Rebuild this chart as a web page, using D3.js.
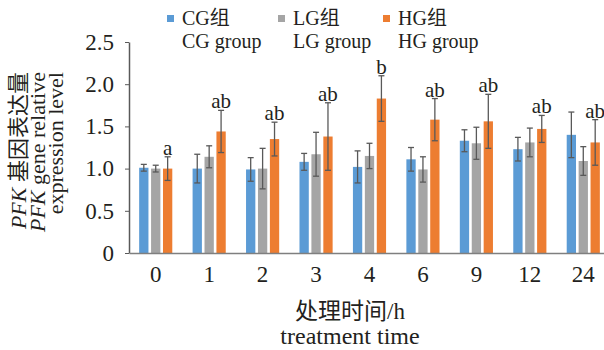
<!DOCTYPE html>
<html>
<head>
<meta charset="utf-8">
<script src="https://cdn.jsdelivr.net/npm/d3@7"></script>
<style>
  body { margin: 0; background: #fff; }
  text { font-family: "Liberation Serif", "Noto Sans CJK SC", serif; fill: #231f20; }
</style>
</head>
<body>
<svg id="chart"></svg>
<script>
// time points (h)
const categories = ["0", "1", "2", "3", "4", "6", "9", "12", "24"];
const groups = ["CG", "LG", "HG"];
const groupNames = ["CG组", "LG组", "HG组"];
const groupNamesEn = ["CG group", "LG group", "HG group"];
const colors = ["#5b9bd5", "#a5a5a5", "#ed7d31"];

const cgValues = [1.01, 1.00, 0.99, 1.08, 1.02, 1.11, 1.33, 1.23, 1.40];
const lgValues = [1.00, 1.14, 1.00, 1.17, 1.15, 0.99, 1.30, 1.31, 1.09];
const hgValues = [1.00, 1.44, 1.35, 1.38, 1.83, 1.58, 1.56, 1.47, 1.31];
const cgErr = [0.04, 0.17, 0.14, 0.10, 0.19, 0.14, 0.13, 0.14, 0.27];
const lgErr = [0.04, 0.13, 0.24, 0.26, 0.15, 0.15, 0.19, 0.17, 0.17];
const hgErr = [0.14, 0.25, 0.20, 0.40, 0.27, 0.25, 0.32, 0.16, 0.27];
const letters = ["a", "ab", "ab", "ab", "b", "ab", "ab", "ab", "ab"];
const yTicks = [0, 0.5, 1.0, 1.5, 2.0, 2.5];

const width = 604, height = 350;
const svg = d3.select("#chart").attr("width", width).attr("height", height);

const x = d3.scaleBand().domain(categories).range([129, 610])
    .paddingInner(0.38).paddingOuter(0.19);
const xSub = d3.scaleBand().domain(groups).range([0, x.bandwidth()]).paddingInner(0.22);
const y = d3.scaleLinear().domain([0, 2.5]).range([253, 42]);

const values = [cgValues, lgValues, hgValues];
const errs = [cgErr, lgErr, hgErr];

const rows = [];
categories.forEach((c, i) => {
    groups.forEach((g, j) => {
        rows.push({cat: c, grp: g, j: j, v: values[j][i], e: errs[j][i]});
    });
});

// bars
svg.append("g").selectAll("rect")
    .data(rows)
    .join("rect")
    .attr("x", d => x(d.cat) + xSub(d.grp))
    .attr("y", d => y(d.v))
    .attr("width", xSub.bandwidth())
    .attr("height", d => y(0) - y(d.v))
    .attr("fill", d => colors[d.j]);

// error bars
const eb = svg.append("g").attr("stroke", "#595959").attr("stroke-width", 1.3);
rows.forEach(d => {
    const cx = x(d.cat) + xSub(d.grp) + xSub.bandwidth() / 2;
    const top = y(d.v + d.e), bot = y(d.v - d.e);
    eb.append("line").attr("x1", cx).attr("x2", cx).attr("y1", top).attr("y2", bot);
    eb.append("line").attr("x1", cx - 3).attr("x2", cx + 3).attr("y1", top).attr("y2", top);
    eb.append("line").attr("x1", cx - 3).attr("x2", cx + 3).attr("y1", bot).attr("y2", bot);
});

// significance letters above HG bars
svg.append("g").selectAll("text")
    .data(categories)
    .join("text")
    .attr("x", (c, i) => x(c) + xSub("HG") + xSub.bandwidth() / 2)
    .attr("y", (c, i) => y(hgValues[i] + hgErr[i]) - 2)
    .attr("text-anchor", "middle")
    .attr("font-size", 21)
    .text((c, i) => letters[i]);

// y axis
const yAxis = svg.append("g")
    .attr("transform", "translate(129,0)")
    .call(d3.axisLeft(y).tickValues(yTicks).tickSize(4).tickSizeOuter(0)
        .tickFormat(d => d === 0 ? "0" : d3.format(".1f")(d)));
yAxis.select(".domain").attr("stroke", "#595959").attr("stroke-width", 1.5);
yAxis.selectAll(".tick line").attr("stroke", "#595959");
yAxis.selectAll(".tick text").attr("font-size", 23).attr("x", -15)
    .attr("font-family", "Liberation Serif").attr("fill", "#231f20");

// x axis
const xAxis = svg.append("g")
    .attr("transform", "translate(0,253)")
    .call(d3.axisBottom(x).tickSize(0).tickSizeOuter(0));
xAxis.select(".domain").attr("stroke", "#7f7f7f").attr("stroke-width", 1.5);
xAxis.selectAll(".tick text").attr("font-size", 23).attr("dy", "1.15em")
    .attr("font-family", "Liberation Serif").attr("fill", "#231f20");

// x axis title
svg.append("text").attr("x", 350).attr("y", 319).attr("text-anchor", "middle")
    .attr("font-size", 23).text("处理时间/h");
svg.append("text").attr("x", 350).attr("y", 344).attr("text-anchor", "middle")
    .attr("font-size", 24).text("treatment time");

// y axis title
const yTitle = [
    {x: 26, parts: [["PFK", true], [" 基因表达量", false]]},
    {x: 45, parts: [["PFK", true], [" gene relative", false]]},
    {x: 63, parts: [["expression level", false]]}
];
yTitle.forEach(t => {
    const tx = svg.append("text")
        .attr("transform", `translate(${t.x},72) rotate(-90)`)
        .attr("text-anchor", "end")
        .attr("font-size", 22);
    t.parts.forEach(p => {
        tx.append("tspan").attr("font-style", p[1] ? "italic" : "normal").text(p[0]);
    });
});

// legend
const legendX = [167, 278, 383];
const legend = svg.append("g");
groups.forEach((g, j) => {
    legend.append("rect").attr("x", legendX[j]).attr("y", 15).attr("width", 7).attr("height", 7)
        .attr("fill", colors[j]);
    legend.append("text").attr("x", legendX[j] + 15).attr("y", 25).attr("font-size", 20)
        .text(groupNames[j]);
    legend.append("text").attr("x", legendX[j] + 15).attr("y", 48).attr("font-size", 20)
        .text(groupNamesEn[j]);
});
</script>
</body>
</html>
